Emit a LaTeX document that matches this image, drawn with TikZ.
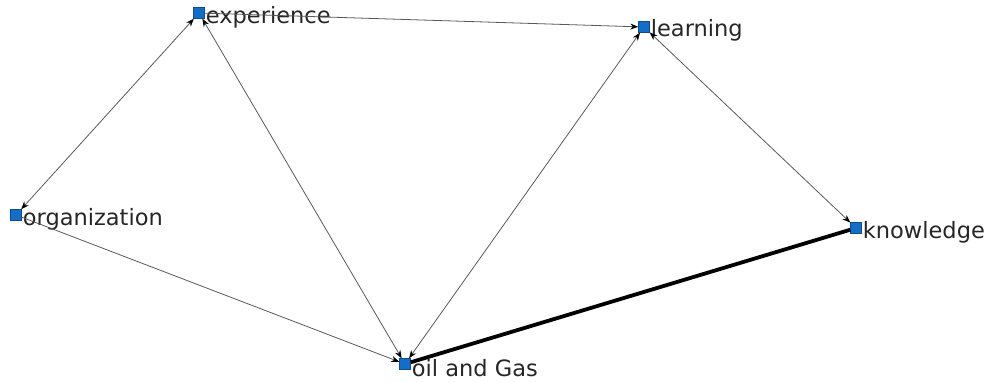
\documentclass[tikz,border=0pt]{standalone}
\usepackage{fontspec}
\setmainfont{DejaVu Sans}
\usetikzlibrary{positioning,arrows.meta}
\definecolor{nodeblue}{RGB}{20,110,200}
\tikzset{
  dot/.style={rectangle, fill=nodeblue, draw=nodeblue!70!black, minimum size=11pt, inner sep=0pt},
  lbl/.style={anchor=west, inner sep=1pt, font=\fontsize{22.5}{26}\selectfont, text=black!85},
  tie/.style={draw=black!65, line width=0.8pt, -{Stealth[length=8pt,width=6pt,black]}},
  twoway/.style={draw=black!65, line width=0.8pt, {Stealth[length=8pt,width=6pt,black]}-{Stealth[length=8pt,width=6pt,black]}}
}
\begin{document}
\begin{tikzpicture}[x=1pt, y=-1pt]
\useasboundingbox (0,0) rectangle (994,381);
\node[dot] (Exp) at (199,13) {};
\node[dot] (Lrn) at (644,27) {};
\node[dot] (Org) at (16,215) {};
\node[dot] (Knw) at (856,228) {};
\node[dot] (Oil) at (405,364) {};
\node[lbl, right=0pt of Exp, yshift=-4pt] (ExpT) {experience};
\node[lbl, right=0pt of Lrn, yshift=-3pt] (LrnT) {learning};
\node[lbl, right=0pt of Org, yshift=-4pt] (OrgT) {organization};
\node[lbl, right=0pt of Knw, yshift=-4pt] (KnwT) {knowledge};
\node[lbl, right=0pt of Oil, yshift=-4pt] (OilT) {oil and Gas};
\draw[tie] (Exp) -- (Lrn);
\draw[twoway] (Exp) -- (Org);
\draw[twoway] (Exp) -- (Oil);
\draw[tie] (Org) -- (Oil);
\draw[twoway] (Oil) -- (Lrn);
\draw[twoway] (Lrn) -- (Knw);
\draw[line width=3.8pt] (Oil) -- (Knw);
\end{tikzpicture}
\end{document}
